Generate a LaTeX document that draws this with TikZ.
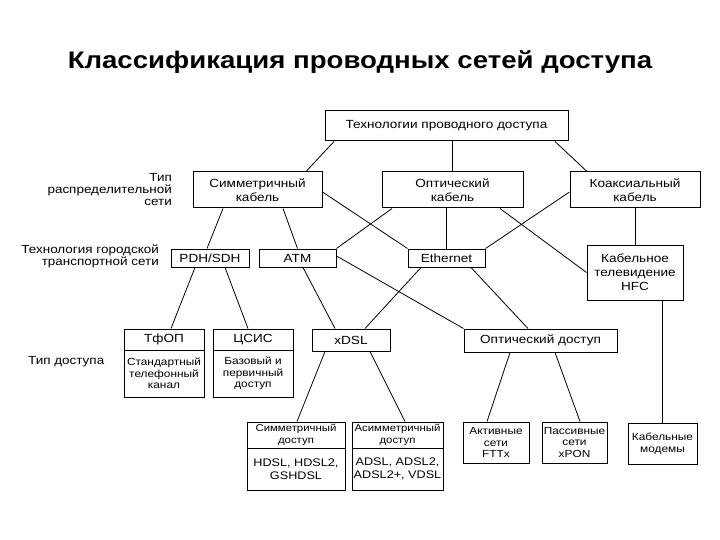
\documentclass[tikz,border=0pt]{standalone}
\usepackage{fontspec}
\setmainfont{Liberation Sans}[FakeStretch=1.15]
\usetikzlibrary{calc}
\tikzset{
  box/.style={draw, line width=1pt, rectangle, inner sep=0pt, align=center, font=\fontsize{11.8}{14}\selectfont},
  sbox/.style={box, font=\fontsize{10.3}{11.5}\selectfont},
  hbox/.style={box, font=\fontsize{9.9}{11.5}\selectfont},
  lbl/.style={align=right, inner sep=0pt, font=\fontsize{11.7}{12}\selectfont},
  conn/.style={line width=0.8pt},
}
\begin{document}
\begin{tikzpicture}[x=1pt,y=-1pt]
\useasboundingbox (0,0) rectangle (720,540);
\node[font=\fontsize{24}{28}\bfseries] (title) at (360,62) {Классификация проводных сетей доступа};

\node[box, minimum width=243, minimum height=30] (top) at (446.5,126) {Технологии проводного доступа};
\node[box, minimum width=129, minimum height=36] (sym) at (257.5,190) {Симметричный\\кабель};
\node[box, minimum width=141, minimum height=36] (opt) at (452.5,190) {Оптический\\кабель};
\node[box, minimum width=130, minimum height=36] (coax) at (635,190) {Коаксиальный\\кабель};

\node[box, minimum width=78, minimum height=18] (pdh) at (210,258) {PDH/SDH};
\node[box, minimum width=77, minimum height=18] (atm) at (297.5,258) {ATM};
\node[box, minimum width=77, minimum height=18] (eth) at (446.5,258) {Ethernet};
\node[box, minimum width=96, minimum height=55] (hfc) at (635,272.5) {Кабельное\\телевидение\\HFC};

\node[box, minimum width=80, minimum height=21] (tfop) at (164,339.5) {ТфОП};
\node[sbox, minimum width=80, minimum height=47] (tfopb) at (164,373.5) {Стандартный\\телефонный\\канал};
\node[box, minimum width=80, minimum height=21] (isdn) at (253,339.5) {ЦСИС};
\node[sbox, minimum width=80, minimum height=47] (isdnb) at (253,373.5) {Базовый и\\первичный\\доступ};
\node[box, minimum width=78, minimum height=22] (xdsl) at (351,340) {xDSL};
\node[box, minimum width=153, minimum height=23] (optacc) at (540.5,340.5) {Оптический доступ};

\node[hbox, minimum width=98, minimum height=26] (symacc) at (296,435) {Симметричный\\доступ};
\node[box, minimum width=98, minimum height=42, font=\fontsize{11}{13}\selectfont] (symaccb) at (296,469) {HDSL, HDSL2,\\GSHDSL};
\node[hbox, minimum width=91, minimum height=26] (asymacc) at (397.5,435) {Асимметричный\\доступ};
\node[box, minimum width=91, minimum height=42, font=\fontsize{11}{13}\selectfont] (asymaccb) at (397.5,469) {ADSL, ADSL2,\\ADSL2+, VDSL};
\node[sbox, minimum width=66, minimum height=41] (act) at (496,442.5) {Активные\\сети\\FTTx};
\node[sbox, minimum width=65, minimum height=41] (pas) at (574.5,442.5) {Пассивные\\сети\\xPON};
\node[sbox, minimum width=69, minimum height=41] (modem) at (662.5,443.5) {Кабельные\\модемы};

\node[lbl, anchor=east] (l1) at (172,190) {Тип\\распределительной\\сети};
\node[lbl, anchor=east] (l2) at (159,256.5) {Технология городской\\транспортной сети};
\node[lbl, anchor=west] (l3) at (28,362) {Тип доступа};

\draw[conn] ([xshift=-112.5]top.south) -- ([xshift=48.5]sym.north);
\draw[conn] (opt.north |- top.south) -- (opt.north);
\draw[conn] ([xshift=108.5]top.south) -- ([xshift=-48]coax.north);

\draw[conn] ([xshift=-34.5]sym.south) -- ([xshift=-3]pdh.north);
\draw[conn] ([xshift=25.5]sym.south) -- (atm.north);
\draw[conn] ([yshift=-2]sym.east) -- (eth.north west);

\draw[conn] ([xshift=-60.5]opt.south) -- (atm.north east);
\draw[conn] (opt.south -| eth.north) -- (eth.north);
\draw[conn] ([xshift=47.5]opt.south) -- (hfc.west);

\draw[conn] ([yshift=-2]coax.west) -- (eth.north east);
\draw[conn] (coax.south) -- (hfc.north);

\draw[conn] ([xshift=-15]pdh.south) -- ([xshift=7]tfop.north);
\draw[conn] ([xshift=15]pdh.south) -- ([xshift=-5]isdn.north);

\draw[conn] ([xshift=5.5]atm.south) -- ([xshift=-16]xdsl.north);
\draw[conn] ([yshift=2]atm.east) -- (optacc.north west);

\draw[conn] ([xshift=-25.5]eth.south) -- ([xshift=14]xdsl.north);
\draw[conn] ([xshift=24.5]eth.south) -- ([xshift=-12.5]optacc.north);

\draw[conn] ([xshift=-26]xdsl.south) -- ([xshift=1]symacc.north);
\draw[conn] ([xshift=19]xdsl.south) -- ([xshift=7.5]asymacc.north);

\draw[conn] ([xshift=-30.5]optacc.south) -- ([xshift=-9]act.north);
\draw[conn] ([xshift=14.5]optacc.south) -- ([xshift=5.5]pas.north);

\draw[conn] (modem.north |- hfc.south) -- (modem.north);
\end{tikzpicture}
\end{document}
